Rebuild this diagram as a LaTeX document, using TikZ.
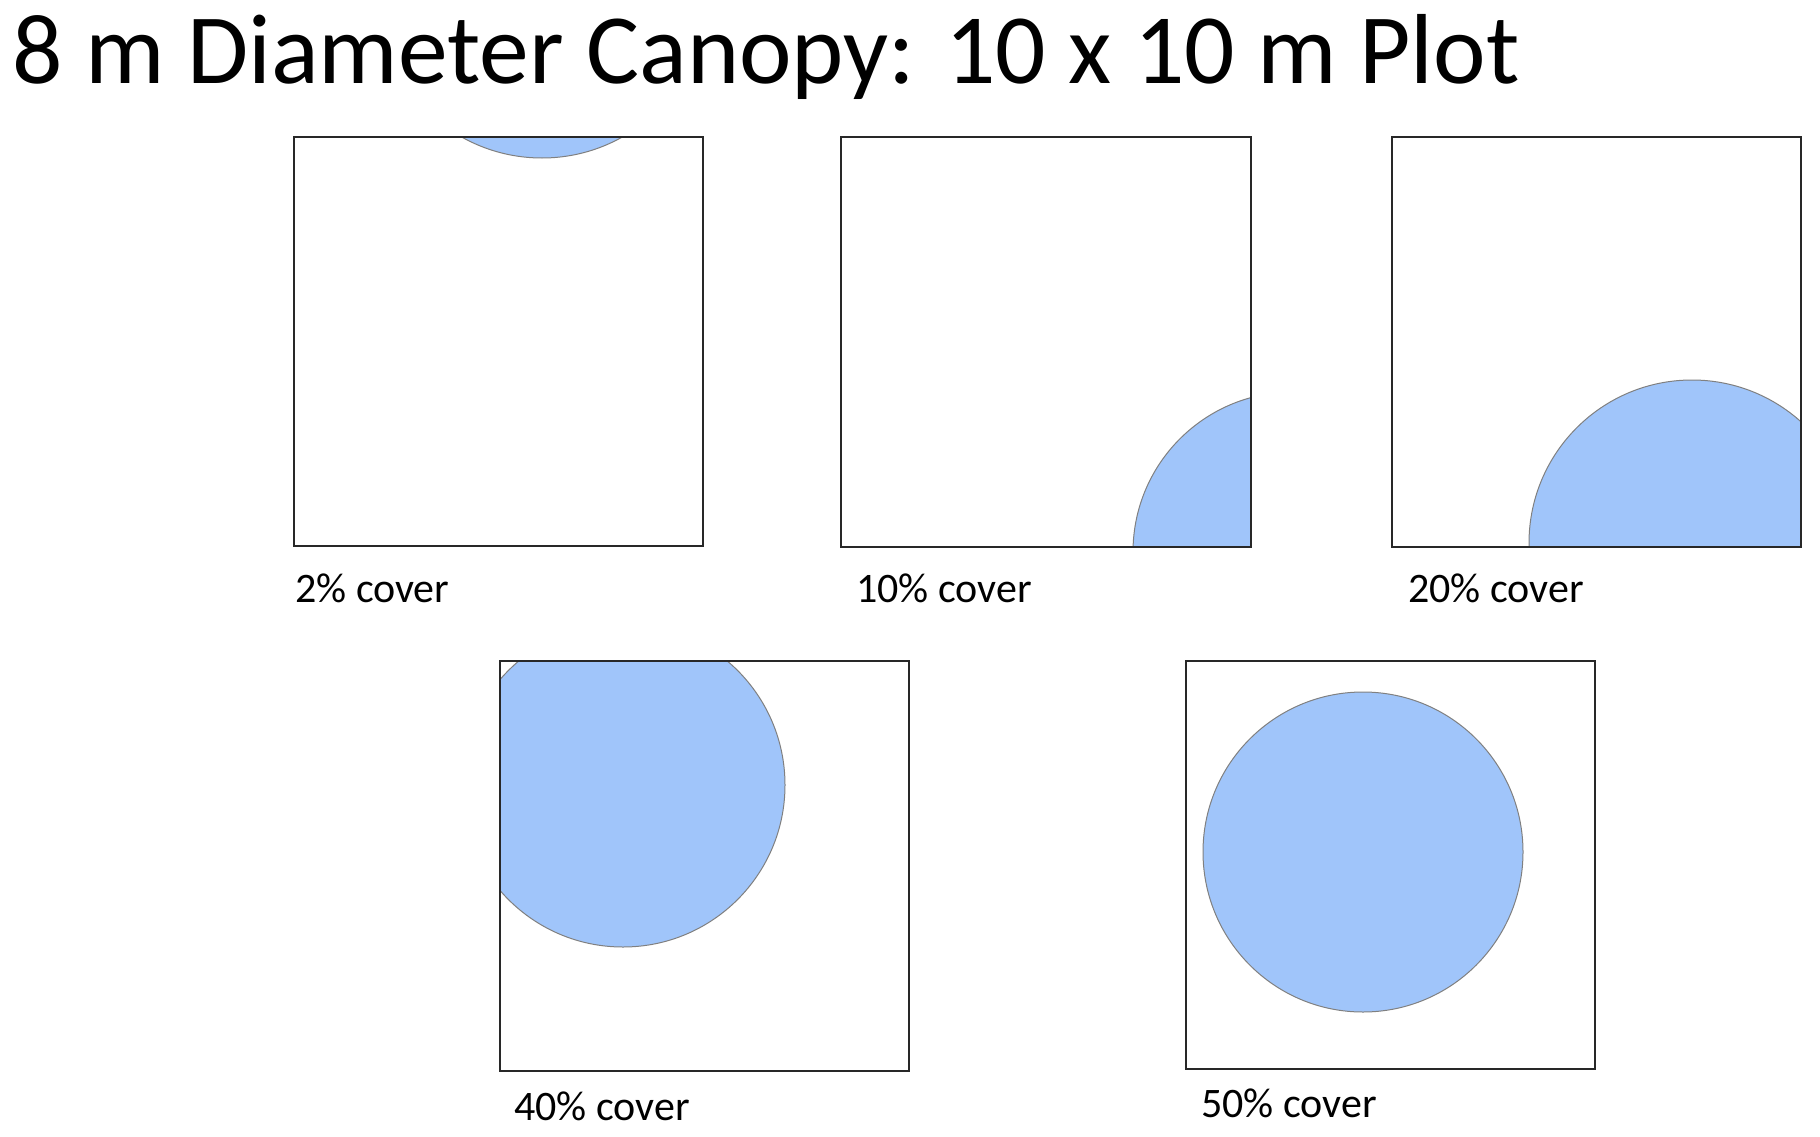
\documentclass[tikz,border=0pt]{standalone}
\usepackage{fontspec}
\setmainfont{Carlito}
\definecolor{canopy}{RGB}{160,197,250}
\definecolor{canopyedge}{RGB}{128,128,128}
\definecolor{plotedge}{RGB}{40,40,40}
\tikzset{
  plotbox/.style={draw=plotedge, line width=1.5pt},
  crown/.style={fill=canopy, draw=canopyedge, line width=1pt},
  covertext/.style={anchor=base west, inner sep=0pt, font=\fontsize{42}{50}\selectfont},
  titletext/.style={anchor=base west, inner sep=0pt, font=\fontsize{99.5}{110}\selectfont}
}
\begin{document}
\begin{tikzpicture}[x=1pt,y=-1pt]
\useasboundingbox[fill=white] (0,0) rectangle (1820,1137);
\node[titletext] (title) at (12,84) {8 m Diameter Canopy: 10 x 10 m Plot};
% plot 1
\begin{scope}
  \clip (294,137) rectangle (703,546);
  \path[crown] (542,-6) circle[radius=164pt];
\end{scope}
\draw[plotbox] (294,137) rectangle (703,546);
% plot 2
\begin{scope}
  \clip (841,137) rectangle (1251,547);
  \path[crown] (1293,552) circle[radius=160pt];
\end{scope}
\draw[plotbox] (841,137) rectangle (1251,547);
% plot 3
\begin{scope}
  \clip (1392,137) rectangle (1801,547);
  \path[crown] (1692,543) circle[radius=163pt];
\end{scope}
\draw[plotbox] (1392,137) rectangle (1801,547);
% plot 4
\begin{scope}
  \clip (500,661) rectangle (909,1071);
  \path[crown] (623,785) circle[radius=162pt];
\end{scope}
\draw[plotbox] (500,661) rectangle (909,1071);
% plot 5
\path[crown] (1363,852) circle[radius=160pt];
\draw[plotbox] (1186,661) rectangle (1595,1069);
% labels
\node[covertext] (l1) at (295,602) {2\% cover};
\node[covertext] (l2) at (856,602) {10\% cover};
\node[covertext] (l3) at (1408,602) {20\% cover};
\node[covertext] (l4) at (514,1120) {40\% cover};
\node[covertext] (l5) at (1201,1117) {50\% cover};
\end{tikzpicture}
\end{document}
